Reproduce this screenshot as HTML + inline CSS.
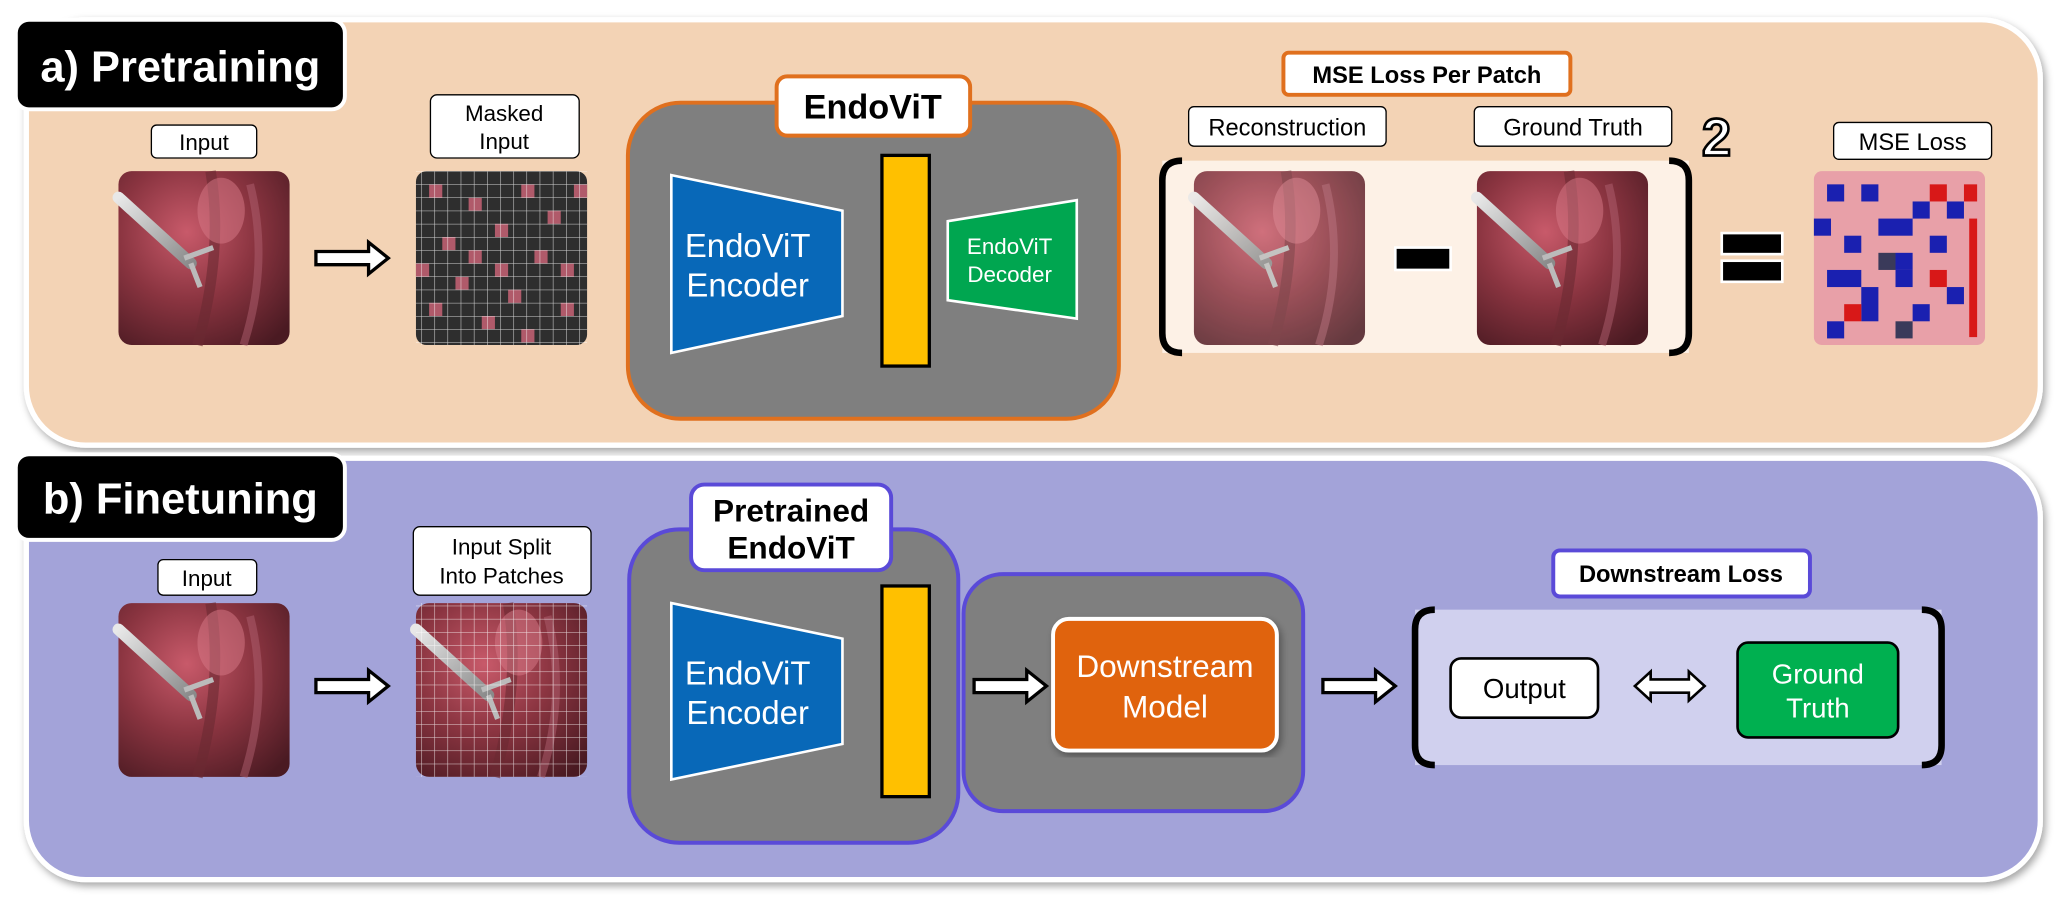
<!DOCTYPE html>
<html><head><meta charset="utf-8"><style>
html,body{margin:0;padding:0;background:#fff;}
svg{display:block;font-family:"Liberation Sans",sans-serif;}
</style></head><body>
<svg width="2064" height="902" viewBox="0 0 1568 685" preserveAspectRatio="none" xmlns="http://www.w3.org/2000/svg">
<defs>
  <radialGradient id="tis" cx="0.4" cy="0.35" r="0.8">
    <stop offset="0" stop-color="#c85a6a"/><stop offset="0.5" stop-color="#8a3440"/><stop offset="1" stop-color="#4a1a22"/>
  </radialGradient>
  <linearGradient id="tool" x1="0" y1="0" x2="1" y2="1">
    <stop offset="0" stop-color="#e8e8e8"/><stop offset="1" stop-color="#8a8a8a"/>
  </linearGradient>
  <g id="endo">
    <rect x="0" y="0" width="130" height="132" rx="10" fill="url(#tis)"/>
    <path d="M70 0 Q80 60 60 132" stroke="#6a2a32" stroke-width="8" fill="none" opacity="0.6"/>
    <path d="M100 10 Q115 70 95 132" stroke="#b06070" stroke-width="6" fill="none" opacity="0.5"/>
    <ellipse cx="78" cy="30" rx="18" ry="25" fill="#d87a88" opacity="0.5"/>
    <path d="M0 20 L55 70" stroke="url(#tool)" stroke-width="9" stroke-linecap="round"/>
    <path d="M50 66 L72 58 M55 70 L62 88" stroke="#bbb" stroke-width="4"/>
  </g>
  <pattern id="grid" width="10" height="10" patternUnits="userSpaceOnUse">
    <path d="M10 0 L0 0 0 10" fill="none" stroke="#fff" stroke-width="0.8" opacity="0.8"/>
  </pattern>
  <g id="arrow">
    <path d="M0 -5 L40 -5 L40 -12 L55 0 L40 12 L40 5 L0 5 Z" fill="#fff" stroke="#000" stroke-width="2.5"/>
  </g>
  <filter id="sh" x="-5%" y="-5%" width="110%" height="110%"><feDropShadow dx="2" dy="3" stdDeviation="3" flood-opacity="0.35"/></filter>
</defs>

<!-- Panel a -->
<rect x="20" y="15" width="1530" height="323" rx="45" fill="#f3d3b5" stroke="#fff" stroke-width="4" filter="url(#sh)"/>
<rect x="12" y="15" width="250" height="68" rx="10" fill="#000" stroke="#fff" stroke-width="3"/>
<text x="137" y="62" font-size="33" font-weight="bold" fill="#fff" text-anchor="middle">a) Pretraining</text>

<rect x="115" y="95" width="80" height="25" rx="4" fill="#fff" stroke="#000"/>
<text x="155" y="114" font-size="17" text-anchor="middle">Input</text>
<use href="#endo" x="90" y="130"/>
<use href="#arrow" x="240" y="196"/>

<rect x="327" y="72" width="113" height="48" rx="5" fill="#fff" stroke="#000"/>
<text x="383" y="92" font-size="17" text-anchor="middle">Masked</text>
<text x="383" y="113" font-size="17" text-anchor="middle">Input</text>
<rect x="316" y="130" width="130" height="132" rx="8" fill="#2e2e2e"/>
<g fill="#b05a6a">
<rect x="326" y="140" width="10" height="10"/><rect x="356" y="150" width="10" height="10"/><rect x="396" y="140" width="10" height="10"/>
<rect x="416" y="160" width="10" height="10"/><rect x="336" y="180" width="10" height="10"/><rect x="376" y="170" width="10" height="10"/>
<rect x="406" y="190" width="10" height="10"/><rect x="346" y="210" width="10" height="10"/><rect x="386" y="220" width="10" height="10"/>
<rect x="326" y="230" width="10" height="10"/><rect x="426" y="230" width="10" height="10"/><rect x="366" y="240" width="10" height="10"/>
<rect x="436" y="140" width="10" height="10"/><rect x="356" y="190" width="10" height="10"/><rect x="396" y="250" width="10" height="10"/>
<rect x="316" y="200" width="10" height="10"/><rect x="426" y="200" width="10" height="10"/><rect x="376" y="200" width="10" height="10"/>
</g>
<rect x="316" y="130" width="130" height="132" fill="url(#grid)"/>

<rect x="477" y="78" width="373" height="240" rx="40" fill="#7f7f7f" stroke="#e0701e" stroke-width="3"/>
<rect x="590" y="58" width="147" height="45" rx="8" fill="#fff" stroke="#e0701e" stroke-width="3"/>
<text x="663" y="90" font-size="26" font-weight="bold" text-anchor="middle">EndoViT</text>
<polygon points="510,133 640,160 640,240 510,268" fill="#0868b8" stroke="#fff" stroke-width="2"/>
<text x="568" y="195" font-size="25" fill="#fff" text-anchor="middle">EndoViT</text>
<text x="568" y="225" font-size="25" fill="#fff" text-anchor="middle">Encoder</text>
<rect x="670" y="118" width="36" height="160" fill="#ffc000" stroke="#000" stroke-width="2.5"/>
<polygon points="720,168 818,152 818,242 720,228" fill="#00a650" stroke="#fff" stroke-width="2"/>
<text x="767" y="193" font-size="17" fill="#fff" text-anchor="middle">EndoViT</text>
<text x="767" y="214" font-size="17" fill="#fff" text-anchor="middle">Decoder</text>

<rect x="975" y="40" width="218" height="32" rx="4" fill="#fff" stroke="#e0701e" stroke-width="3"/>
<text x="1084" y="63" font-size="18" font-weight="bold" text-anchor="middle">MSE Loss Per Patch</text>
<rect x="903" y="81" width="150" height="30" rx="4" fill="#fff" stroke="#000"/>
<text x="978" y="103" font-size="18" text-anchor="middle">Reconstruction</text>
<rect x="1120" y="81" width="150" height="30" rx="4" fill="#fff" stroke="#000"/>
<text x="1195" y="103" font-size="18" text-anchor="middle">Ground Truth</text>
<rect x="883" y="122" width="400" height="146" fill="#fdf1e6"/>
<path d="M898 122 Q883 122 883 137 L883 253 Q883 268 898 268" fill="none" stroke="#000" stroke-width="5"/>
<path d="M1268 122 Q1283 122 1283 137 L1283 253 Q1283 268 1268 268" fill="none" stroke="#000" stroke-width="5"/>
<use href="#endo" x="907" y="130" opacity="0.85"/>
<use href="#endo" x="1122" y="130"/>
<rect x="1060" y="188" width="42" height="17" fill="#000" stroke="#fff" stroke-width="2"/>
<text x="1304" y="118" font-size="40" font-weight="bold" fill="#fff" stroke="#000" stroke-width="2" text-anchor="middle">2</text>
<rect x="1308" y="177" width="46" height="16" fill="#000" stroke="#fff" stroke-width="2"/>
<rect x="1308" y="198" width="46" height="16" fill="#000" stroke="#fff" stroke-width="2"/>

<rect x="1393" y="93" width="120" height="28" rx="4" fill="#fff" stroke="#000"/>
<text x="1453" y="114" font-size="18" text-anchor="middle">MSE Loss</text>
<rect x="1378" y="130" width="130" height="132" rx="6" fill="#e8a0a8"/>
<g fill="#1a20b0">
<rect x="1388" y="140" width="13" height="13"/><rect x="1414" y="140" width="13" height="13"/><rect x="1453" y="153" width="13" height="13"/>
<rect x="1378" y="166" width="13" height="13"/><rect x="1427" y="166" width="26" height="13"/><rect x="1401" y="179" width="13" height="13"/>
<rect x="1466" y="179" width="13" height="13"/><rect x="1388" y="205" width="26" height="13"/><rect x="1440" y="205" width="13" height="13"/>
<rect x="1414" y="218" width="13" height="26" /><rect x="1479" y="218" width="13" height="13"/><rect x="1453" y="231" width="13" height="13"/>
<rect x="1388" y="244" width="13" height="13"/><rect x="1440" y="192" width="13" height="13"/><rect x="1479" y="153" width="13" height="13"/>
</g>
<g fill="#d81818">
<rect x="1466" y="140" width="13" height="13"/><rect x="1492" y="140" width="10" height="13"/><rect x="1401" y="231" width="13" height="13"/>
<rect x="1466" y="205" width="13" height="13"/><rect x="1496" y="166" width="6" height="90"/>
</g>
<g fill="#3a3a5a"><rect x="1440" y="244" width="13" height="13"/><rect x="1427" y="192" width="13" height="13"/></g>

<!-- Panel b -->
<rect x="20" y="348" width="1530" height="320" rx="45" fill="#a3a3d9" stroke="#fff" stroke-width="4" filter="url(#sh)"/>
<rect x="12" y="345" width="250" height="65" rx="10" fill="#000" stroke="#fff" stroke-width="3"/>
<text x="137" y="390" font-size="33" font-weight="bold" fill="#fff" text-anchor="middle">b) Finetuning</text>

<rect x="120" y="425" width="75" height="27" rx="4" fill="#fff" stroke="#000"/>
<text x="157" y="445" font-size="17" text-anchor="middle">Input</text>
<use href="#endo" x="90" y="458"/>
<use href="#arrow" x="240" y="521"/>

<rect x="314" y="400" width="135" height="52" rx="5" fill="#fff" stroke="#000"/>
<text x="381" y="421" font-size="17" text-anchor="middle">Input Split</text>
<text x="381" y="443" font-size="17" text-anchor="middle">Into Patches</text>
<use href="#endo" x="316" y="458"/>
<rect x="316" y="458" width="130" height="132" fill="url(#grid)"/>

<rect x="478" y="402" width="250" height="238" rx="38" fill="#7f7f7f" stroke="#5a4ad8" stroke-width="3"/>
<rect x="732" y="436" width="258" height="180" rx="30" fill="#7f7f7f" stroke="#5a4ad8" stroke-width="3"/>
<rect x="525" y="368" width="152" height="65" rx="10" fill="#fff" stroke="#5a4ad8" stroke-width="3"/>
<text x="601" y="396" font-size="24" font-weight="bold" text-anchor="middle">Pretrained</text>
<text x="601" y="424" font-size="24" font-weight="bold" text-anchor="middle">EndoViT</text>
<polygon points="510,458 640,485 640,565 510,592" fill="#0868b8" stroke="#fff" stroke-width="2"/>
<text x="568" y="520" font-size="25" fill="#fff" text-anchor="middle">EndoViT</text>
<text x="568" y="550" font-size="25" fill="#fff" text-anchor="middle">Encoder</text>
<rect x="670" y="445" width="36" height="160" fill="#ffc000" stroke="#000" stroke-width="2.5"/>
<use href="#arrow" x="740" y="521"/>
<rect x="800" y="470" width="170" height="100" rx="12" fill="#e0640e" stroke="#fff" stroke-width="3" filter="url(#sh)"/>
<text x="885" y="514" font-size="24" fill="#fff" text-anchor="middle">Downstream</text>
<text x="885" y="545" font-size="24" fill="#fff" text-anchor="middle">Model</text>
<use href="#arrow" x="1005" y="521"/>

<rect x="1180" y="418" width="195" height="35" rx="5" fill="#fff" stroke="#5a4ad8" stroke-width="3"/>
<text x="1277" y="442" font-size="18" font-weight="bold" text-anchor="middle">Downstream Loss</text>
<rect x="1075" y="463" width="400" height="118" fill="#d0d0ee"/>
<path d="M1090 463 Q1075 463 1075 478 L1075 566 Q1075 581 1090 581" fill="none" stroke="#000" stroke-width="5"/>
<path d="M1460 463 Q1475 463 1475 478 L1475 566 Q1475 581 1460 581" fill="none" stroke="#000" stroke-width="5"/>
<rect x="1102" y="500" width="112" height="45" rx="8" fill="#fff" stroke="#000" stroke-width="2"/>
<text x="1158" y="530" font-size="21" text-anchor="middle">Output</text>
<path d="M1242 521 L1254 510 L1254 516 L1283 516 L1283 510 L1295 521 L1283 532 L1283 526 L1254 526 L1254 532 Z" fill="#fff" stroke="#000" stroke-width="2"/>
<rect x="1320" y="488" width="122" height="72" rx="8" fill="#00b050" stroke="#000" stroke-width="2"/>
<text x="1381" y="519" font-size="21" fill="#fff" text-anchor="middle">Ground</text>
<text x="1381" y="545" font-size="21" fill="#fff" text-anchor="middle">Truth</text>
</svg>
</body></html>
